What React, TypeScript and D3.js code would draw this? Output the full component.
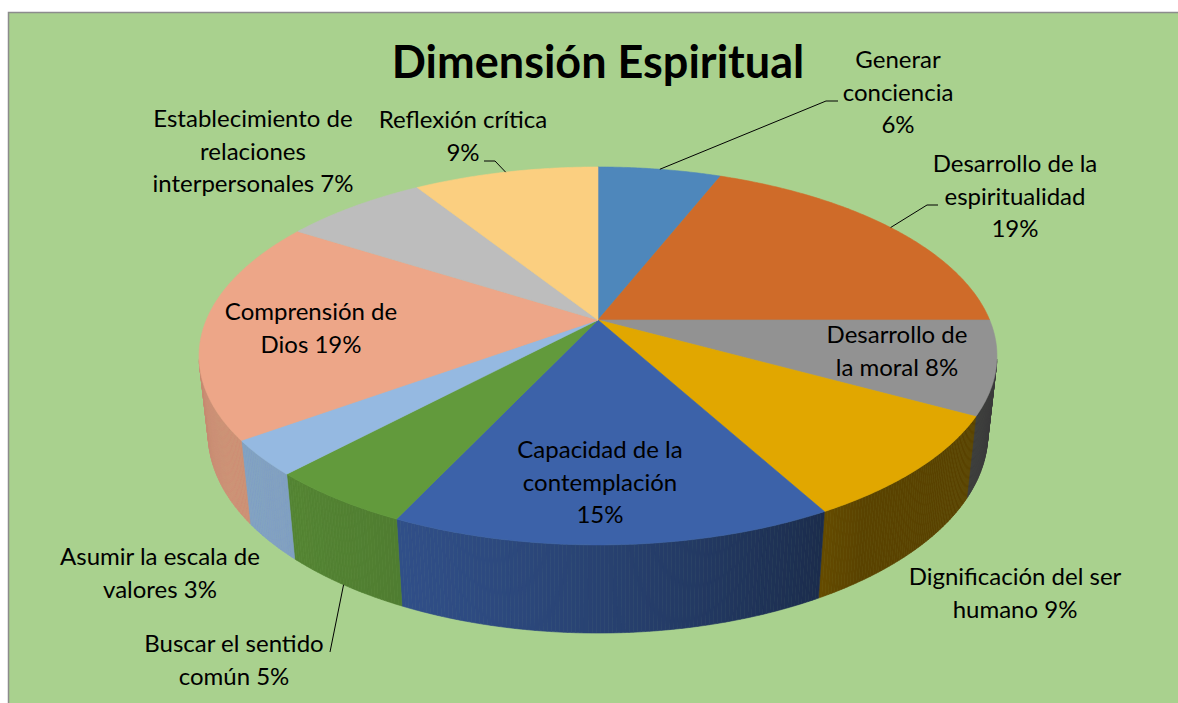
import React from "react";
import * as d3 from "d3";

const categories = [
  "Generar conciencia",
  "Desarrollo de la espiritualidad",
  "Desarrollo de la moral",
  "Dignificación del ser humano",
  "Capacidad de la contemplación",
  "Buscar el sentido común",
  "Asumir la escala de valores",
  "Comprensión de Dios",
  "Establecimiento de relaciones interpersonales",
  "Reflexión crítica",
];
const values = [6, 19, 8, 9, 15, 5, 3, 19, 7, 9];
const colors = [
  "#4E87BB",
  "#CF6B29",
  "#929292",
  "#E1A700",
  "#3C62A9",
  "#629A3C",
  "#95B9E1",
  "#EDA688",
  "#BDBDBD",
  "#FBCF80",
];
// label line breaks ({p} = percentage)
const labelLines = [
  ["Generar", "conciencia", "{p}"],
  ["Desarrollo de la", "espiritualidad", "{p}"],
  ["Desarrollo de", "la moral {p}"],
  ["Dignificación del ser", "humano {p}"],
  ["Capacidad de la", "contemplación", "{p}"],
  ["Buscar el sentido", "común {p}"],
  ["Asumir la escala de", "valores {p}"],
  ["Comprensión de", "Dios {p}"],
  ["Establecimiento de", "relaciones", "interpersonales {p}"],
  ["Reflexión crítica", "{p}"],
];
const title = "Dimensión Espiritual";

// layout (positions, not data)
const labelLayout: { x: number; y: number; leader?: number[][]; edge?: "top" | "bottom" }[] = [
  { x: 898, y: 68, leader: [[826, 101], [838, 101]], edge: "top" },
  { x: 1015, y: 172, leader: [[927, 205], [938, 205]], edge: "top" },
  { x: 897, y: 343 },
  { x: 1015, y: 585 },
  { x: 600, y: 458 },
  { x: 234, y: 652, leader: [[330, 652]], edge: "bottom" },
  { x: 160, y: 565 },
  { x: 311, y: 320 },
  { x: 253, y: 127 },
  { x: 463, y: 128, leader: [[495, 161], [484, 161]], edge: "top" },
];

const W = 1178;
const Hh = 703;
const F = 1821.6,
  D = 4.651,
  SE = 0.465,
  CE = 0.885,
  TH = 0.2263,
  CX = 598,
  CY = 320;

function proj(th: number, r: number, y: number): [number, number] {
  const X = r * Math.sin(th);
  const Z = r * Math.cos(th);
  const depth = D + CE * Z - SE * y;
  const up = CE * y + SE * Z;
  return [CX + (F * X) / depth, CY - (F * up) / depth];
}

const LIGHT = (235 * Math.PI) / 180;
function shade(col: string, th: number) {
  const k = 0.4 + 0.47 * Math.max(0, Math.cos(th - LIGHT));
  const c = d3.rgb(col);
  return d3.rgb(c.r * k, c.g * k, c.b * k).formatHex();
}

export default function App() {
  const pie = d3
    .pie<number>()
    .sort(null)
    .value((d) => d)
    .startAngle(0)
    .endAngle(2 * Math.PI);
  const arcs = pie(values);
  const step = (0.5 * Math.PI) / 180;
  const line = d3.line();

  const walls: { d: string; fill: string; key: string }[] = [];
  arcs.forEach((a, i) => {
    const n = Math.max(1, Math.ceil((a.endAngle - a.startAngle) / step));
    for (let j = 0; j < n; j++) {
      const t0 = a.startAngle + ((a.endAngle - a.startAngle) * j) / n;
      const t1 = a.startAngle + ((a.endAngle - a.startAngle) * (j + 1)) / n;
      const tm = (t0 + t1) / 2;
      if (-1 - D * CE * Math.cos(tm) <= -0.15) continue;
      const pts = [proj(t0, 1, 0), proj(t1, 1, 0), proj(t1, 1, -TH), proj(t0, 1, -TH)];
      walls.push({ d: line(pts as any) + "Z", fill: shade(colors[i], tm), key: `w${i}-${j}` });
    }
  });

  const tops = arcs.map((a, i) => {
    const n = Math.max(2, Math.ceil((a.endAngle - a.startAngle) / step));
    const pts: [number, number][] = [[CX, CY]];
    for (let j = 0; j <= n; j++) {
      const t = a.startAngle + ((a.endAngle - a.startAngle) * j) / n;
      pts.push(proj(t, 1, 0));
    }
    return { d: line(pts) + "Z", fill: colors[i] };
  });

  const font = "Lato, 'Open Sans', sans-serif";

  return (
    <svg
      width={W}
      height={Hh}
      style={{ position: "absolute", left: 0, top: 0, display: "block" }}
    >
      <rect x={0} y={0} width={W} height={Hh} fill="#ffffff" />
      <rect x={8.5} y={12.5} width={W + 10} height={Hh + 10} fill="#A9D18E" stroke="#8C8C8C" strokeWidth={1.5} />
      {walls.map((w) => (
        <path key={w.key} d={w.d} fill={w.fill} stroke={w.fill} strokeWidth={0.6} />
      ))}
      {tops.map((t, i) => (
        <path key={"t" + i} d={t.d} fill={t.fill} stroke={t.fill} strokeWidth={0.6} />
      ))}
      <text x={598} y={78} textAnchor="middle" fontFamily={font} fontWeight="bold" fontSize={45} fill="#000">
        {title}
      </text>
      {labelLayout.map((L, i) => {
        const a = arcs[i];
        const mid = (a.startAngle + a.endAngle) / 2;
        let leader: string | null = null;
        if (L.leader) {
          const s = proj(mid, 1, L.edge === "bottom" ? -TH : 0);
          leader = line([s, ...(L.leader as [number, number][])]);
        }
        const p = `${values[i]}%`;
        return (
          <g key={"l" + i}>
            {leader && <path d={leader} fill="none" stroke="#000" strokeWidth={1} />}
            <text
              x={L.x}
              y={L.y}
              textAnchor="middle"
              fontFamily={font}
              fontSize={24}
              fill="#000"
            >
              {labelLines[i].map((ln, k) => (
                <tspan key={k} x={L.x} y={L.y + k * 32.5}>
                  {ln.replace("{p}", p)}
                </tspan>
              ))}
            </text>
          </g>
        );
      })}
    </svg>
  );
}
